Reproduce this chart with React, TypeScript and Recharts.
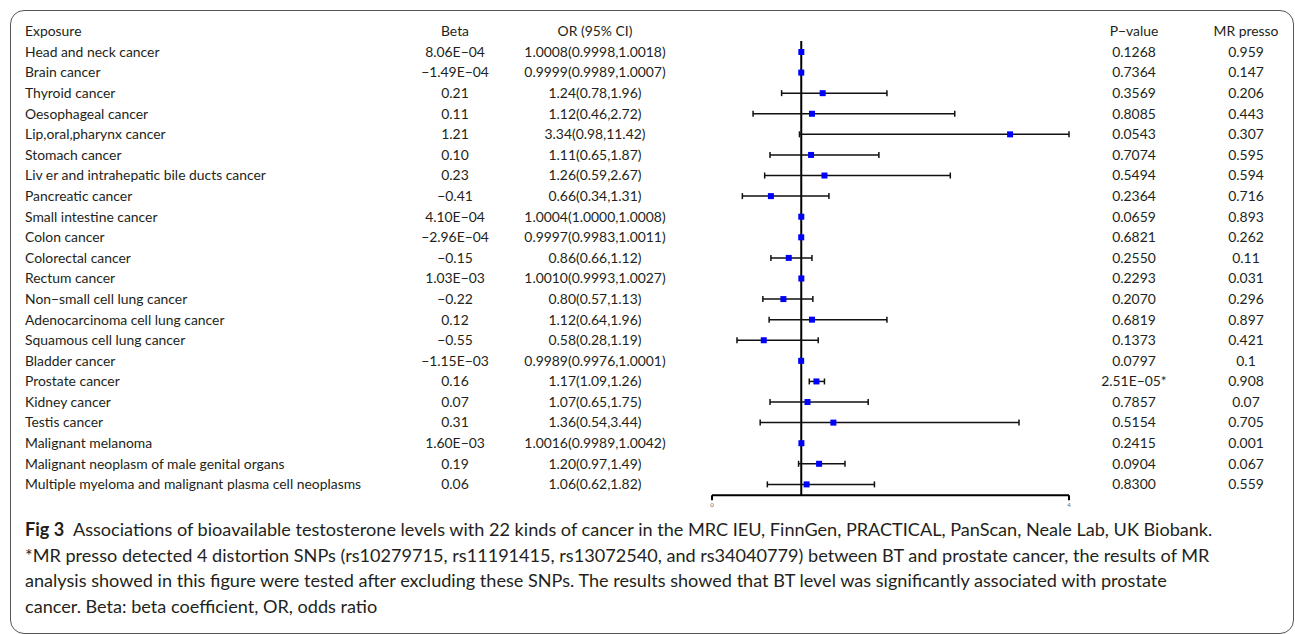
import React from "react";
import {
  ScatterChart,
  Scatter,
  XAxis,
  YAxis,
  ErrorBar,
  ReferenceLine,
} from "recharts";

const exposures = [
  "Head and neck cancer",
  "Brain cancer",
  "Thyroid cancer",
  "Oesophageal cancer",
  "Lip,oral,pharynx cancer",
  "Stomach cancer",
  "Liv er and intrahepatic bile ducts cancer",
  "Pancreatic cancer",
  "Small intestine cancer",
  "Colon cancer",
  "Colorectal cancer",
  "Rectum cancer",
  "Non\u2212small cell lung cancer",
  "Adenocarcinoma cell lung cancer",
  "Squamous cell lung cancer",
  "Bladder cancer",
  "Prostate cancer",
  "Kidney cancer",
  "Testis cancer",
  "Malignant melanoma",
  "Malignant neoplasm of male genital organs",
  "Multiple myeloma and malignant plasma cell neoplasms",
];

const betas = [
  "8.06E\u221204", "\u22121.49E\u221204", "0.21", "0.11", "1.21", "0.10", "0.23",
  "\u22120.41", "4.10E\u221204", "\u22122.96E\u221204", "\u22120.15", "1.03E\u221203",
  "\u22120.22", "0.12", "\u22120.55", "\u22121.15E\u221203", "0.16", "0.07", "0.31",
  "1.60E\u221203", "0.19", "0.06",
];

const oddsRatios = [
  "1.0008", "0.9999", "1.24", "1.12", "3.34", "1.11", "1.26", "0.66", "1.0004",
  "0.9997", "0.86", "1.0010", "0.80", "1.12", "0.58", "0.9989", "1.17", "1.07",
  "1.36", "1.0016", "1.20", "1.06",
];

const ciLower = [
  "0.9998", "0.9989", "0.78", "0.46", "0.98", "0.65", "0.59", "0.34", "1.0000",
  "0.9983", "0.66", "0.9993", "0.57", "0.64", "0.28", "0.9976", "1.09", "0.65",
  "0.54", "0.9989", "0.97", "0.62",
];

const ciUpper = [
  "1.0018", "1.0007", "1.96", "2.72", "11.42", "1.87", "2.67", "1.31", "1.0008",
  "1.0011", "1.12", "1.0027", "1.13", "1.96", "1.19", "1.0001", "1.26", "1.75",
  "3.44", "1.0042", "1.49", "1.82",
];

const pValues = [
  "0.1268", "0.7364", "0.3569", "0.8085", "0.0543", "0.7074", "0.5494", "0.2364",
  "0.0659", "0.6821", "0.2550", "0.2293", "0.2070", "0.6819", "0.1373", "0.0797",
  "2.51E\u221205*", "0.7857", "0.5154", "0.2415", "0.0904", "0.8300",
];

const mrPresso = [
  "0.959", "0.147", "0.206", "0.443", "0.307", "0.595", "0.594", "0.716", "0.893",
  "0.262", "0.11", "0.031", "0.296", "0.897", "0.421", "0.1", "0.908", "0.07",
  "0.705", "0.001", "0.067", "0.559",
];

const xTicks = [0, 4];
const X_MAX = 4;

const rows = exposures.map((name, i) => {
  const or = Number(oddsRatios[i]);
  const lo = Number(ciLower[i]);
  const hi = Math.min(Number(ciUpper[i]), X_MAX); // plot is cut at 4
  return {
    idx: i + 1,
    or,
    err: [or - lo, hi - or],
    name,
    beta: betas[i],
    ci: `${oddsRatios[i]}(${ciLower[i]},${ciUpper[i]})`,
    p: pValues[i],
    mr: mrPresso[i],
  };
});

const header = [
  {
    idx: 0,
    or: 1,
    name: "Exposure",
    beta: "Beta",
    ci: "OR (95% CI)",
    p: "P\u2212value",
    mr: "MR presso",
  },
];

const FONT = "Lato, 'Noto Sans', sans-serif";
const TEXT = "#231f20";

// column anchors of the table
const COL = { name: 25, beta: 455, ci: 595, p: 1134, mr: 1246 };

function RowText(props: any) {
  const { cy, payload } = props;
  const common = {
    y: cy,
    dy: "0.35em",
    fontFamily: FONT,
    fontSize: 13.9,
    fill: TEXT,
  };
  return (
    <g>
      <text x={COL.name} textAnchor="start" {...common}>
        {payload.name}
      </text>
      <text x={COL.beta} textAnchor="middle" {...common}>
        {payload.beta}
      </text>
      <text x={COL.ci} textAnchor="middle" {...common}>
        {payload.ci}
      </text>
      <text x={COL.p} textAnchor="middle" {...common}>
        {payload.p}
      </text>
      <text x={COL.mr} textAnchor="middle" {...common}>
        {payload.mr}
      </text>
    </g>
  );
}

function SquareMark(props: any) {
  const { cx, cy } = props;
  return <rect x={cx - 3} y={cy - 3} width={6} height={6} fill="#0000ff" />;
}

export default function App() {
  return (
    <div
      style={{
        position: "absolute",
        left: 0,
        top: 0,
        width: 1295,
        height: 634,
        overflow: "hidden",
        background: "#fff",
      }}
    >
      <div
        style={{
          position: "absolute",
          left: 10,
          top: 10,
          width: 1282,
          height: 622,
          border: "1px solid #555",
          borderRadius: 14,
        }}
      />
      <div style={{ position: "absolute", left: 0, top: 0 }}>
        <ScatterChart
          width={1295}
          height={530}
          margin={{ top: 31.4, right: 226, bottom: 14.7, left: 712 }}
        >
          <XAxis
            type="number"
            dataKey="or"
            domain={[0, X_MAX]}
            ticks={xTicks}
            height={20}
            axisLine={{ stroke: "#000", strokeWidth: 2 }}
            tickLine={{ stroke: "#000", strokeWidth: 2 }}
            tickSize={5}
            tickMargin={2}
            tick={{ fontSize: 6, fill: "#666", fontFamily: FONT }}
          />
          <YAxis
            type="number"
            dataKey="idx"
            domain={[0, 22.53]}
            reversed
            hide
          />
          <ReferenceLine
            segment={[
              { x: 1, y: 0.466 },
              { x: 1, y: 22.53 },
            ]}
            stroke="#000"
            strokeWidth={2}
          />
          <Scatter
            data={header}
            shape={(p: any) => <RowText {...p} />}
            isAnimationActive={false}
          />
          <Scatter
            data={rows}
            shape={(p: any) => <RowText {...p} />}
            isAnimationActive={false}
          />
          <Scatter data={rows} shape={SquareMark} isAnimationActive={false}>
            <ErrorBar
              dataKey="err"
              direction="x"
              width={3}
              stroke="#111"
              strokeWidth={1.5}
            />
          </Scatter>
        </ScatterChart>
      </div>
      <div
        style={{
          position: "absolute",
          left: 25,
          top: 517,
          fontFamily: FONT,
          fontSize: 18.1,
          lineHeight: "25.5px",
          color: "#231f20",
          whiteSpace: "nowrap",
        }}
      >
        <b>Fig 3</b>&nbsp; Associations of bioavailable testosterone levels with 22
        kinds of cancer in the MRC IEU, FinnGen, PRACTICAL, PanScan, Neale Lab, UK
        Biobank.
        <br />
        *MR presso detected 4 distortion SNPs (rs10279715, rs11191415, rs13072540,
        and rs34040779) between BT and prostate cancer, the results of MR
        <br />
        analysis showed in this figure were tested after excluding these SNPs. The
        results showed that BT level was significantly associated with prostate
        <br />
        cancer. Beta: beta coefficient, OR, odds ratio
      </div>
    </div>
  );
}
